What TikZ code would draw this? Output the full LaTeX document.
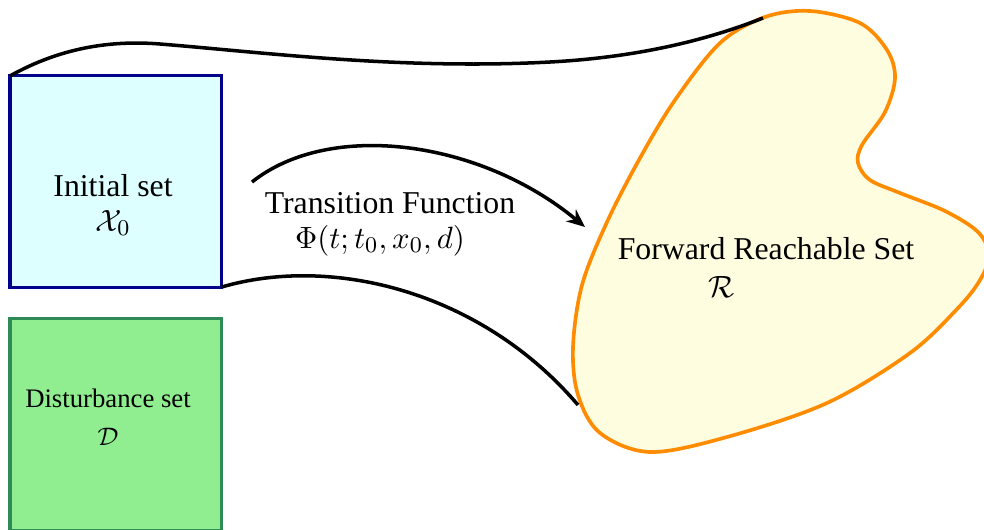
\documentclass[tikz,border=0pt]{standalone}
\usepackage{fontspec}
\setmainfont{Liberation Serif}
\usepackage{amsmath,amssymb}
\usepackage{xcolor}
\usepackage{tikz}
\usetikzlibrary{arrows.meta,positioning}

\begin{document}
\begin{tikzpicture}[x=0.0125cm,y=-0.0125cm,
  setbox/.style={rectangle,line width=1.15pt,outer sep=0pt,minimum width=2.64cm,minimum height=2.64cm},
  setlabel/.style={align=center,font=\fontsize{11.3}{12.4}\selectfont},
  flow/.style={line width=1.25pt}]
\definecolor{initfill}{HTML}{DDFFFF}
\definecolor{initdraw}{HTML}{00008B}
\definecolor{distfill}{HTML}{90EE90}
\definecolor{distdraw}{HTML}{2E8B57}
\definecolor{reachfill}{HTML}{FFFDE0}
\definecolor{reachdraw}{HTML}{FF8C00}
\useasboundingbox (0,0) rectangle (984,529);

% Initial set
\node[setbox,fill=initfill,draw=initdraw] (init) at (115.7,181.5) {};
\node[setlabel] (initlbl) at (113,205) {Initial set\\ $\mathcal{X}_0$};

% Disturbance set
\node[setbox,fill=distfill,draw=distdraw] (dist) at (115.7,424.5) {};
\node[setlabel,font=\fontsize{9.5}{13.5}\selectfont] (distlbl) at (108,417) {Disturbance set\\ $\mathcal{D}$};

% Forward reachable set
\draw[line width=1.3pt,draw=reachdraw,fill=reachfill] plot[smooth cycle,tension=0.55] coordinates {
  (810,11) (860,23) (887,50) (895,78) (885,112) (862,145) (858,163) (870,180) (900,193)
  (945,211) (978,232) (989,255) (980,280) (958,308) (910,353) (827,403) (727,437)
  (650,452) (600,433) (578,395) (573,347) (582,285) (607,222) (640,158) (675,100)
  (720,43) (765,17)};
\node[setlabel] (reachlbl) at (766,249) {Forward Reachable Set};
\node[setlabel] (reachsym) at (722,287) {$\mathcal{R}$};
\coordinate (rtop) at (763,18);
\coordinate (rbot) at (578,405);

% Flow of the initial set
\draw[flow] (init.north west) .. controls (60,48) and (110,40) .. (160,44)
  .. controls (260,52) and (400,70) .. (550,62) .. controls (650,56.7) and (720,35) .. (rtop);
\draw[flow] (init.south east) .. controls (330,255) and (480,290) .. (rbot);

% Transition function
\node[setlabel] (tflbl) at (390,224) {Transition Function\\ {\fontsize{10.8}{12}\selectfont$\Phi(t;t_0,x_0,d)$}\hspace*{0.25cm}};
\coordinate (tfstart) at (252,182);
\coordinate (tfend) at (585,227);
\draw[flow,-{Stealth[length=6.5pt,width=5.5pt]}] (tfstart) .. controls (330,120) and (480,140) .. (tfend);
\end{tikzpicture}
\end{document}
